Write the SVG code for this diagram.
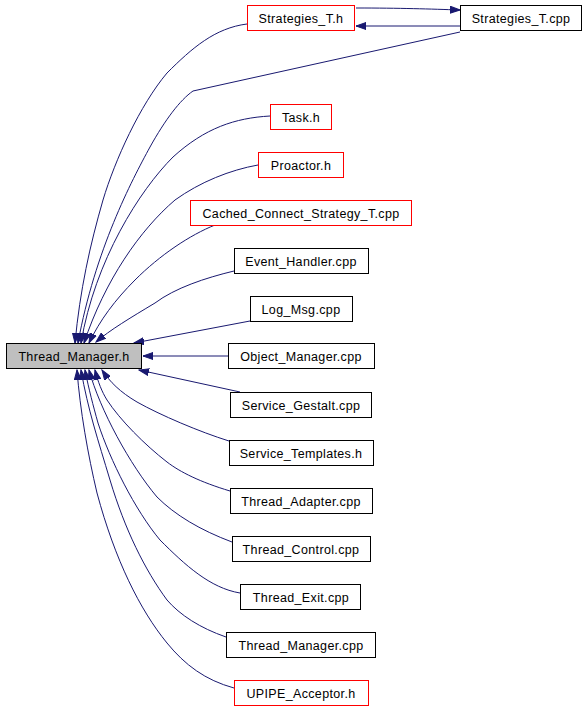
<svg xmlns="http://www.w3.org/2000/svg" width="587" height="709" viewBox="0 0 587 709">
<style>
.n rect{fill:#fff;stroke:#000;stroke-width:1}
.n.r rect{stroke:#ff0000}
.n.g rect{fill:#bfbfbf}
.n text{font-family:"Liberation Sans",Arial,sans-serif;font-size:12.5px;letter-spacing:0.35px;text-anchor:middle;fill:#000}
.e path{fill:none;stroke:#191970;stroke-width:1;marker-end:url(#a)}
</style>
<defs>
<marker id="a" markerUnits="userSpaceOnUse" markerWidth="11" markerHeight="8" refX="10" refY="4" orient="auto">
<path d="M0,0.5 L10,4 L0,7.5 z" fill="#191970" stroke="#191970" stroke-width="1"/>
</marker>
</defs>
<rect width="587" height="709" fill="#fff"/>
<g id="edges" class="e">
<path d="M356,8 C400,8 430,9 460,10"/>
<path d="M460,26 L356,26"/>
<path d="M247,24 C215,28 192,48 167,73 C140,105 115,160 103,200 C90,245 80,290 75,343"/>
<path d="M460,32 L193,91 C180,100 165,120 150,147 C132,180 95,250 78,343"/>
<path d="M270,116 C235,118 205,128 173,157 C140,190 95,260 81,343"/>
<path d="M258,165 C230,170 200,182 175,200 C140,230 105,280 84,343"/>
<path d="M215,225 C190,235 160,255 135,280 C115,300 100,320 89,343"/>
<path d="M234,271 C205,278 175,288 155,303 C130,318 110,330 96,342"/>
<path d="M250,321 L134,343"/>
<path d="M228,356 L143,356"/>
<path d="M240,392 L139,370"/>
<path d="M229,441 C200,432 160,415 137,402 C120,392 110,382 102,370"/>
<path d="M230,491 C200,482 180,472 167,462 C145,445 120,420 107,400 C102,392 98,382 95,370"/>
<path d="M232,542 C200,530 175,515 157,497 C130,465 100,410 89,370"/>
<path d="M240,593 C210,588 185,565 160,540 C135,510 110,460 98,423 C93,405 89,390 85,370"/>
<path d="M226,637 C200,628 180,615 167,600 C145,570 125,530 110,480 C98,440 88,410 81,370"/>
<path d="M234,688 C205,680 185,665 167,643 C140,610 115,560 97,493 C88,455 80,410 77,370"/>
</g>
<g id="Thread_Manager_h" class="n g"><rect x="6.5" y="343.5" width="135" height="25"/><text x="74" y="360.5">Thread_Manager.h</text></g>
<g id="Strategies_T_h" class="n r"><rect x="247.5" y="5.5" width="107" height="25"/><text x="301" y="22.5">Strategies_T.h</text></g>
<g id="Strategies_T_cpp" class="n"><rect x="460.5" y="5.5" width="121" height="25"/><text x="521" y="22.5">Strategies_T.cpp</text></g>
<g id="Task_h" class="n r"><rect x="270.5" y="104.5" width="61" height="25"/><text x="301" y="121.5">Task.h</text></g>
<g id="Proactor_h" class="n r"><rect x="258.5" y="152.5" width="85" height="25"/><text x="301" y="169.5">Proactor.h</text></g>
<g id="Cached_Connect_Strategy_T_cpp" class="n r"><rect x="190.5" y="200.5" width="221" height="25"/><text x="301" y="217.5">Cached_Connect_Strategy_T.cpp</text></g>
<g id="Event_Handler_cpp" class="n"><rect x="234.5" y="248.5" width="134" height="25"/><text x="301" y="265.5">Event_Handler.cpp</text></g>
<g id="Log_Msg_cpp" class="n"><rect x="250.5" y="296.5" width="102" height="25"/><text x="301" y="313.5">Log_Msg.cpp</text></g>
<g id="Object_Manager_cpp" class="n"><rect x="228.5" y="343.5" width="146" height="25"/><text x="301" y="360.5">Object_Manager.cpp</text></g>
<g id="Service_Gestalt_cpp" class="n"><rect x="230.5" y="392.5" width="141" height="25"/><text x="301" y="409.5">Service_Gestalt.cpp</text></g>
<g id="Service_Templates_h" class="n"><rect x="229.5" y="440.5" width="144" height="25"/><text x="301" y="457.5">Service_Templates.h</text></g>
<g id="Thread_Adapter_cpp" class="n"><rect x="230.5" y="488.5" width="142" height="25"/><text x="301" y="505.5">Thread_Adapter.cpp</text></g>
<g id="Thread_Control_cpp" class="n"><rect x="232.5" y="536.5" width="138" height="25"/><text x="301" y="553.5">Thread_Control.cpp</text></g>
<g id="Thread_Exit_cpp" class="n"><rect x="240.5" y="584.5" width="120" height="25"/><text x="301" y="601.5">Thread_Exit.cpp</text></g>
<g id="Thread_Manager_cpp" class="n"><rect x="226.5" y="632.5" width="149" height="25"/><text x="301" y="649.5">Thread_Manager.cpp</text></g>
<g id="UPIPE_Acceptor_h" class="n r"><rect x="234.5" y="680.5" width="134" height="25"/><text x="301" y="697.5">UPIPE_Acceptor.h</text></g>
</svg>
